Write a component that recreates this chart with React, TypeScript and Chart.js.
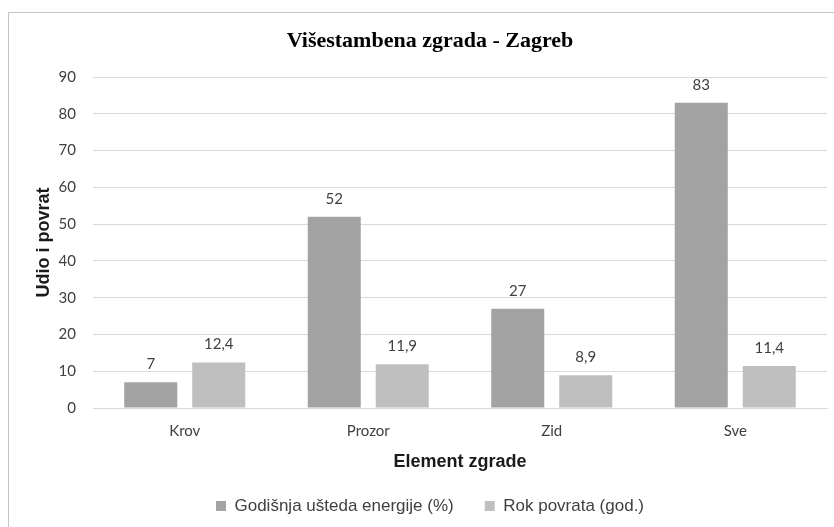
import React, { useEffect, useRef } from "react";
import { Chart, registerables } from "chart.js";

Chart.register(...registerables);

const categories = ["Krov", "Prozor", "Zid", "Sve"];
const savingLabel = "Godišnja ušteda energije (%)";
const paybackLabel = "Rok povrata (god.)";
const savingValues = [7, 52, 27, 83];
const paybackValues = [12.4, 11.9, 8.9, 11.4];
const yTicks = [0, 10, 20, 30, 40, 50, 60, 70, 80, 90];

const chartTitle = "Višestambena zgrada - Zagreb";
const xTitle = "Element zgrade";
const yTitle = "Udio i povrat";

const TICK_FONT = "Lato, 'Open Sans', sans-serif";
const ARIAL = "'Liberation Sans', Arial, sans-serif";

const formatValue = (v: number) => String(v).replace(".", ",");

const dataLabelPlugin = {
  id: "dataLabels",
  afterDatasetsDraw(chart: any) {
    const ctx = chart.ctx;
    ctx.save();
    ctx.font = `15px ${TICK_FONT}`;
    ctx.fillStyle = "#404040";
    ctx.textAlign = "center";
    ctx.textBaseline = "alphabetic";
    chart.data.datasets.forEach((ds: any, di: number) => {
      const meta = chart.getDatasetMeta(di);
      meta.data.forEach((el: any, i: number) => {
        const v = ds.data[i] as number;
        ctx.fillText(formatValue(v), el.x, el.y - 13);
      });
    });
    ctx.restore();
  },
};

export default function App() {
  const ref = useRef<HTMLCanvasElement | null>(null);

  useEffect(() => {
    if (!ref.current) return;
    const chart = new Chart(ref.current, {
      type: "bar",
      data: {
        labels: categories,
        datasets: [
          {
            label: savingLabel,
            data: savingValues,
            backgroundColor: "#a3a3a3",
            categoryPercentage: 0.741,
            barPercentage: 0.78,
          },
          {
            label: paybackLabel,
            data: paybackValues,
            backgroundColor: "#bfbfbf",
            categoryPercentage: 0.741,
            barPercentage: 0.78,
          },
        ],
      },
      options: {
        animation: false,
        responsive: false,
        maintainAspectRatio: false,
        layout: { padding: { top: 0, left: 24, right: 8, bottom: 2.5 } },
        plugins: {
          title: {
            display: true,
            text: chartTitle,
            color: "#000000",
            font: { family: "'Liberation Serif', 'Times New Roman', serif", size: 22, weight: "bold" },
            padding: { top: 15.5, bottom: 22.1 },
          },
          legend: {
            display: true,
            position: "bottom",
            labels: {
              boxWidth: 10,
              boxHeight: 10,
              padding: 31,
              color: "#404040",
              font: { family: ARIAL, size: 17 },
            },
          },
          tooltip: { enabled: false },
        },
        scales: {
          x: {
            grid: { display: false, drawTicks: false },
            border: { display: true, color: "#d9d9d9", width: 1 },
            ticks: {
              padding: 14,
              color: "#404040",
              font: { family: TICK_FONT, size: 15 },
            },
            title: {
              display: true,
              text: xTitle,
              color: "#1a1a1a",
              font: { family: ARIAL, size: 18, weight: "bold" },
              padding: { top: 0, bottom: -6 },
            },
            afterFit(scale: any) {
              scale.height = 58.5;
            },
          },
          y: {
            min: 0,
            max: 90,
            afterBuildTicks(scale: any) {
              scale.ticks = yTicks.map((v) => ({ value: v }));
            },
            grid: { color: "#d9d9d9", lineWidth: 1, drawTicks: false },
            border: { display: false },
            ticks: {
              padding: 17,
              color: "#404040",
              font: { family: TICK_FONT, size: 15 },
            },
            title: {
              display: true,
              text: yTitle,
              color: "#1a1a1a",
              font: { family: ARIAL, size: 18, weight: "bold" },
              padding: { top: 0, bottom: 0 },
            },
            afterFit(scale: any) {
              scale.width = 60;
            },
          },
        },
      },
      plugins: [dataLabelPlugin],
    } as any);
    return () => chart.destroy();
  }, []);

  return (
    <div
      style={{
        position: "fixed",
        left: 8,
        top: 12,
        width: 900,
        height: 600,
        borderTop: "1px solid #c4c4c4",
        borderLeft: "1px solid #c4c4c4",
        background: "#ffffff",
      }}
    >
      <canvas
        ref={ref}
        width={826}
        height={514}
        style={{ position: "absolute", left: 0, top: 0, width: 826, height: 514 }}
      />
    </div>
  );
}
